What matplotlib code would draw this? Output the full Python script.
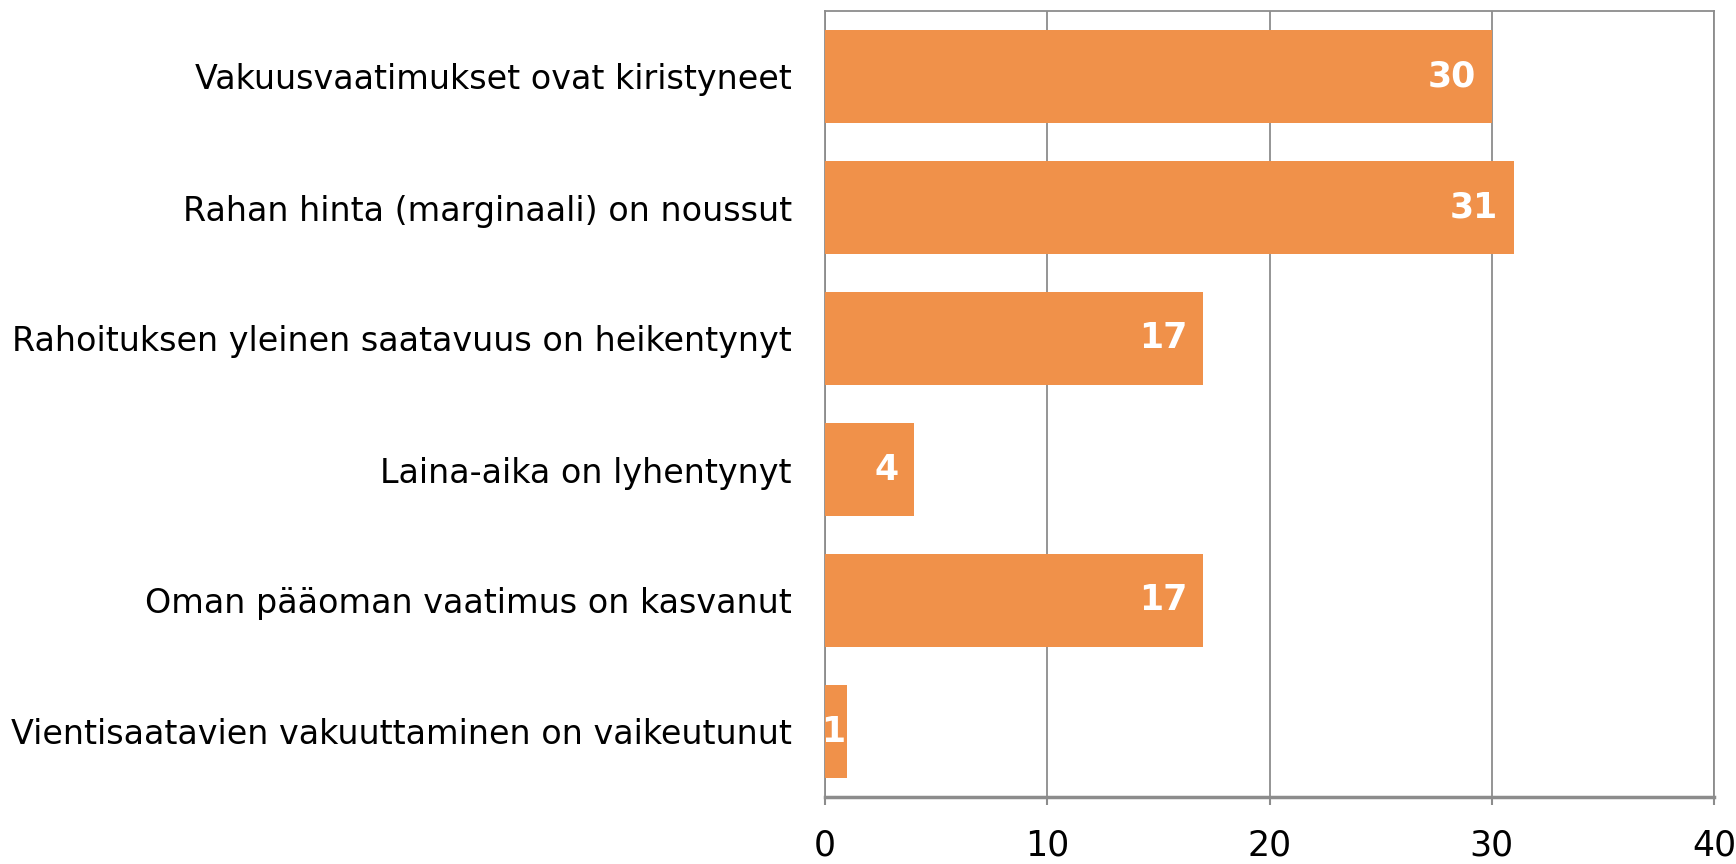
import matplotlib.pyplot as plt

categories = [
    "Vakuusvaatimukset ovat kiristyneet",
    "Rahan hinta (marginaali) on noussut",
    "Rahoituksen yleinen saatavuus on heikentynyt",
    "Laina-aika on lyhentynyt",
    "Oman pääoman vaatimus on kasvanut",
    "Vientisaatavien vakuuttaminen on vaikeutunut",
]
values = [30, 31, 17, 4, 17, 1]
xticks = [0, 10, 20, 30, 40]

bar_color = "#F0914A"
grid_color = "#8C8C8C"

plt.rcParams["font.family"] = ["DejaVu Sans"]

fig = plt.figure(figsize=(17.36, 8.64), dpi=100)
ax = fig.add_axes([825 / 1736, 1 - 797 / 864, (1714 - 825) / 1736, (797 - 11) / 864])

pos = list(range(len(categories)))
bars = ax.barh(pos, values, height=0.71, color=bar_color, zorder=3)
ax.set_ylim(len(categories) - 0.5, -0.5)
ax.set_xlim(0, 40)

ax.set_yticks(pos)
ax.set_yticklabels(categories, fontsize=24)
ax.tick_params(axis="y", length=0, pad=24)
ax.set_xticks(xticks)
ax.set_xticklabels([str(t) for t in xticks], fontsize=25)
ax.tick_params(axis="x", length=6, width=1.5, color=grid_color, pad=17)

ax.grid(axis="x", color=grid_color, linewidth=1.3, zorder=0)
for side in ["left", "top", "right"]:
    ax.spines[side].set_color(grid_color)
    ax.spines[side].set_linewidth(1.3)
ax.spines["bottom"].set_color(grid_color)
ax.spines["bottom"].set_linewidth(2.5)

for b, v in zip(bars, values):
    x = v - 0.7 if v > 2 else v - 0.1
    ax.text(x, b.get_y() + b.get_height() / 2, str(v), ha="right", va="center",
            color="white", fontsize=25, fontweight="bold", zorder=4)

fig.savefig("out.png", dpi=100)
